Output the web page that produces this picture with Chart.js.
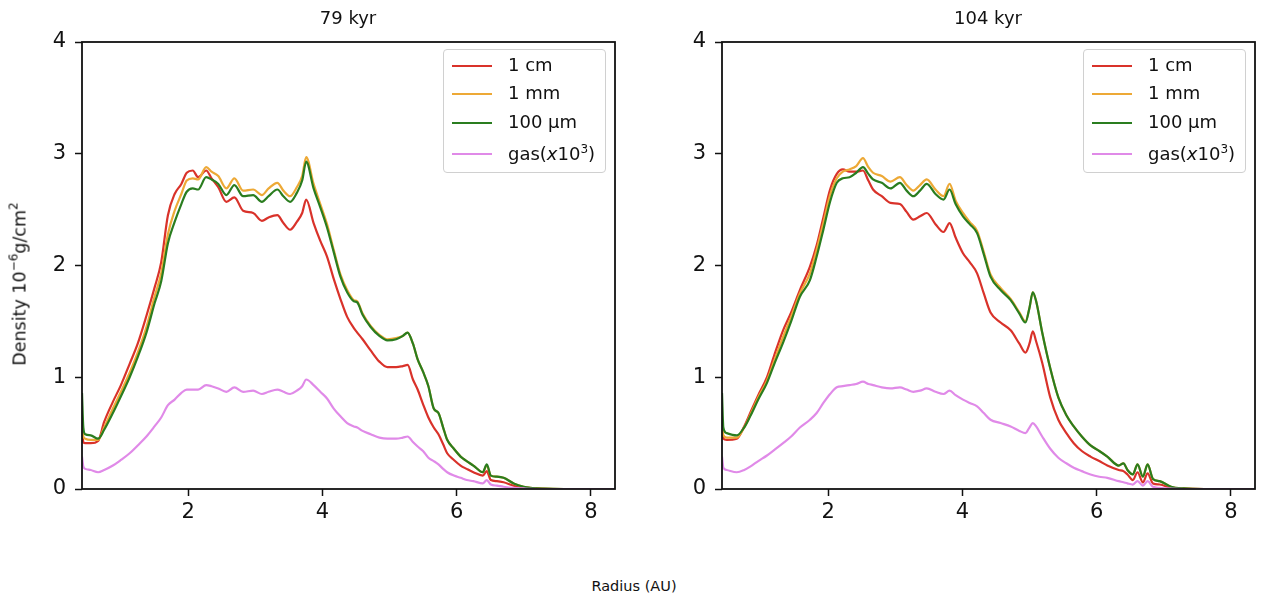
<!DOCTYPE html>
<html>
<head>
<meta charset="utf-8">
<script src="https://cdn.jsdelivr.net/npm/chart.js@4.4.1/dist/chart.umd.min.js"></script>
<style>
  body { margin: 0; background: #fff; font-family: "DejaVu Sans", sans-serif; }
  #wrap { position: relative; width: 1268px; height: 601px; overflow: hidden; }
  canvas { position: absolute; top: 0; }
  .title { position: absolute; top: 7px; font-size: 18px; color: #111; transform: translateX(-50%); white-space: nowrap; }
  .ylab { position: absolute; left: 18px; top: 284px; font-size: 17.5px; color: #111; white-space: nowrap;
          transform: translate(-50%, -50%) rotate(-90deg); }
  .xlab { position: absolute; left: 634px; top: 578px; font-size: 14.5px; color: #111; transform: translateX(-50%); white-space: nowrap; }
  .legend { position: absolute; top: 49px; width: 161px; height: 122px; border: 1px solid #d0d0d0; border-radius: 4px; background: rgba(255,255,255,0.8); }
  .legend .row { position: absolute; left: 0; height: 20px; width: 100%; }
  .legend .sw { position: absolute; left: 8px; top: 9px; width: 40px; height: 2px; }
  .legend .tx { position: absolute; left: 64px; top: -2px; font-size: 18px; color: #111; white-space: nowrap; }
  sup { font-size: 12px; vertical-align: 7px; }
  .ylab sup { font-size: 12px; vertical-align: 8px; }
</style>
</head>
<body>
<div id="wrap">
  <canvas id="chartLeft" width="640" height="560" style="left:0"></canvas>
  <canvas id="chartRight" width="628" height="560" style="left:640px"></canvas>
  <div class="title" style="left:348px">79 kyr</div>
  <div class="title" style="left:988px">104 kyr</div>
  <div class="ylab">Density 10<sup>−6</sup>g/cm<sup>2</sup></div>
  <div class="xlab">Radius (AU)</div>
  <div class="legend" id="legendLeft" style="left:443px"></div>
  <div class="legend" id="legendRight" style="left:1083px"></div>
</div>
<script>
// --- datos ---
const xTicks = [2, 4, 6, 8];
const yTicks = [0, 1, 2, 3, 4];
const seriesNames = ['1 cm', '1 mm', '100 µm', 'gas(<i>x</i>10<sup>3</sup>)'];

// panel izquierdo: 79 kyr
const radiusLeft = [0.42, 0.44, 0.47, 0.55, 0.66, 0.75, 0.88, 1.0, 1.13, 1.25, 1.38, 1.5, 1.6, 1.7, 1.8, 1.9, 1.98, 2.07, 2.15, 2.27,
  2.35, 2.45, 2.57, 2.69, 2.82, 2.97, 3.1, 3.2, 3.33, 3.42, 3.52, 3.62, 3.7, 3.76, 3.87, 3.97, 4.07, 4.17, 4.27, 4.37,
  4.47, 4.52, 4.6, 4.72, 4.85, 4.97, 5.1, 5.2, 5.27, 5.35, 5.42, 5.5, 5.58, 5.66, 5.73, 5.8, 5.86, 5.96, 6.06, 6.15,
  6.25, 6.39, 6.45, 6.51, 6.6, 6.7, 6.85, 7.0, 7.1, 7.3, 7.6, 8.0, 8.36];
const cmLeft = [0.55, 0.42, 0.41, 0.41, 0.43, 0.60, 0.78, 0.93, 1.12, 1.30, 1.55, 1.80, 2.03, 2.45, 2.64, 2.73, 2.83, 2.85, 2.79, 2.85,
  2.78, 2.70, 2.57, 2.61, 2.49, 2.47, 2.40, 2.43, 2.45, 2.38, 2.32, 2.39, 2.47, 2.59, 2.38, 2.22, 2.08, 1.88, 1.70, 1.54,
  1.44, 1.40, 1.34, 1.24, 1.14, 1.09, 1.09, 1.10, 1.11, 0.98, 0.89, 0.76, 0.64, 0.55, 0.49, 0.40, 0.32, 0.26, 0.21, 0.18,
  0.15, 0.12, 0.16, 0.08, 0.07, 0.06, 0.03, 0.015, 0.008, 0.002, 0, 0, 0];
const mmLeft = [0.55, 0.47, 0.45, 0.44, 0.44, 0.55, 0.72, 0.87, 1.04, 1.22, 1.45, 1.72, 1.93, 2.28, 2.49, 2.64, 2.76, 2.78, 2.77, 2.88,
  2.84, 2.80, 2.69, 2.78, 2.67, 2.68, 2.63, 2.69, 2.74, 2.67, 2.62, 2.70, 2.80, 2.97, 2.73, 2.55, 2.37, 2.14, 1.92, 1.78,
  1.69, 1.68, 1.57, 1.46, 1.38, 1.34, 1.35, 1.37, 1.40, 1.30, 1.16, 1.05, 0.92, 0.72, 0.68, 0.55, 0.44, 0.36, 0.29, 0.25,
  0.21, 0.15, 0.21, 0.12, 0.11, 0.10, 0.05, 0.02, 0.01, 0.003, 0, 0, 0];
const umLeft = [0.86, 0.55, 0.49, 0.48, 0.45, 0.53, 0.68, 0.83, 1.00, 1.18, 1.40, 1.66, 1.86, 2.20, 2.39, 2.55, 2.66, 2.69, 2.68, 2.79,
  2.77, 2.73, 2.63, 2.72, 2.62, 2.63, 2.57, 2.62, 2.68, 2.62, 2.57, 2.65, 2.76, 2.93, 2.69, 2.52, 2.34, 2.12, 1.90, 1.76,
  1.68, 1.67, 1.56, 1.45, 1.37, 1.33, 1.34, 1.37, 1.40, 1.30, 1.16, 1.05, 0.92, 0.72, 0.68, 0.55, 0.44, 0.36, 0.29, 0.25,
  0.21, 0.15, 0.22, 0.12, 0.11, 0.10, 0.05, 0.02, 0.01, 0.003, 0, 0, 0];
const gasLeft = [0.29, 0.20, 0.18, 0.17, 0.15, 0.17, 0.21, 0.26, 0.32, 0.39, 0.47, 0.56, 0.64, 0.75, 0.80, 0.86, 0.89, 0.89, 0.89, 0.93,
  0.92, 0.90, 0.87, 0.91, 0.87, 0.88, 0.85, 0.87, 0.89, 0.87, 0.85, 0.88, 0.92, 0.98, 0.93, 0.87, 0.81, 0.72, 0.65, 0.59,
  0.56, 0.55, 0.52, 0.49, 0.46, 0.45, 0.45, 0.46, 0.47, 0.42, 0.38, 0.34, 0.28, 0.25, 0.22, 0.18, 0.15, 0.12, 0.10, 0.08,
  0.07, 0.05, 0.08, 0.04, 0.03, 0.02, 0.01, 0.005, 0.002, 0, 0, 0, 0];

// panel derecho: 104 kyr
const radiusRight = [0.42, 0.44, 0.49, 0.64, 0.75, 0.84, 0.96, 1.09, 1.2, 1.33, 1.45, 1.58, 1.73, 1.83, 1.93, 2.03, 2.13, 2.22, 2.32, 2.42,
  2.52, 2.6, 2.67, 2.8, 2.93, 3.07, 3.17, 3.27, 3.37, 3.47, 3.6, 3.72, 3.81, 3.9, 4.01, 4.11, 4.22, 4.32, 4.42, 4.57,
  4.72, 4.85, 4.94, 5.0, 5.05, 5.1, 5.19, 5.31, 5.43, 5.55, 5.66, 5.78, 5.91, 6.04, 6.16, 6.33, 6.4, 6.46, 6.54, 6.61,
  6.69, 6.76, 6.84, 6.94, 7.11, 7.3, 7.6, 8.0, 8.36];
const cmRight = [0.53, 0.45, 0.44, 0.45, 0.56, 0.68, 0.84, 1.00, 1.20, 1.42, 1.58, 1.78, 1.99, 2.18, 2.43, 2.68, 2.82, 2.86, 2.84, 2.84,
  2.85, 2.76, 2.68, 2.62, 2.56, 2.55, 2.48, 2.41, 2.44, 2.47, 2.37, 2.30, 2.38, 2.25, 2.11, 2.03, 1.93, 1.75, 1.58, 1.49,
  1.42, 1.30, 1.22, 1.30, 1.41, 1.32, 1.13, 0.82, 0.62, 0.50, 0.41, 0.34, 0.29, 0.25, 0.21, 0.17, 0.16, 0.13, 0.08, 0.15,
  0.06, 0.14, 0.05, 0.04, 0.01, 0.003, 0, 0, 0];
const mmRight = [0.55, 0.48, 0.46, 0.46, 0.55, 0.66, 0.82, 0.97, 1.15, 1.36, 1.54, 1.75, 1.93, 2.14, 2.38, 2.63, 2.78, 2.84, 2.86, 2.89,
  2.96, 2.88, 2.83, 2.80, 2.75, 2.79, 2.72, 2.67, 2.72, 2.77, 2.68, 2.62, 2.73, 2.58, 2.47, 2.39, 2.31, 2.12, 1.92, 1.80,
  1.70, 1.58, 1.50, 1.62, 1.76, 1.68, 1.40, 1.08, 0.82, 0.66, 0.56, 0.47, 0.39, 0.34, 0.29, 0.21, 0.23, 0.17, 0.13, 0.22,
  0.11, 0.22, 0.09, 0.07, 0.02, 0.005, 0, 0, 0];
const umRight = [0.86, 0.55, 0.50, 0.48, 0.55, 0.65, 0.80, 0.95, 1.12, 1.31, 1.50, 1.72, 1.87, 2.08, 2.32, 2.57, 2.74, 2.78, 2.79, 2.83,
  2.88, 2.82, 2.77, 2.74, 2.69, 2.74, 2.67, 2.62, 2.67, 2.73, 2.64, 2.59, 2.68, 2.55, 2.44, 2.37, 2.29, 2.10, 1.90, 1.78,
  1.69, 1.57, 1.49, 1.62, 1.76, 1.68, 1.40, 1.08, 0.82, 0.66, 0.56, 0.47, 0.39, 0.34, 0.29, 0.21, 0.23, 0.17, 0.13, 0.22,
  0.11, 0.22, 0.09, 0.07, 0.02, 0.005, 0, 0, 0];
const gasRight = [0.29, 0.19, 0.17, 0.15, 0.17, 0.20, 0.25, 0.30, 0.35, 0.41, 0.47, 0.55, 0.62, 0.68, 0.77, 0.85, 0.91, 0.92, 0.93, 0.94,
  0.96, 0.94, 0.93, 0.91, 0.90, 0.91, 0.89, 0.87, 0.88, 0.90, 0.87, 0.85, 0.88, 0.84, 0.80, 0.77, 0.74, 0.68, 0.62, 0.59,
  0.56, 0.52, 0.50, 0.55, 0.59, 0.56, 0.47, 0.36, 0.28, 0.23, 0.19, 0.16, 0.13, 0.11, 0.10, 0.07, 0.06, 0.05, 0.04, 0.07,
  0.03, 0.07, 0.02, 0.01, 0.003, 0, 0, 0, 0];

const colores = ['#d9322a', '#eda936', '#2a7d1f', '#e08ae8'];

// marco negro alrededor del area del grafico (estilo matplotlib)
const framePlugin = {
  id: 'frame',
  afterDraw(chart) {
    const { ctx, chartArea: a } = chart;
    ctx.save();
    ctx.strokeStyle = '#111';
    ctx.lineWidth = 1.8;
    ctx.strokeRect(a.left, a.top, a.right - a.left, a.bottom - a.top);
    ctx.restore();
  }
};

function crearPanel(canvasId, radius, valores, padRight) {
  const datasets = valores.map((serie, i) => ({
    label: seriesNames[i],
    data: radius.map((r, j) => ({ x: r, y: serie[j] })),
    borderColor: colores[i],
    borderWidth: 2.2,
    pointRadius: 0,
    fill: false,
    cubicInterpolationMode: 'monotone',
    order: 4 - i
  }));

  return new Chart(document.getElementById(canvasId), {
    type: 'line',
    data: { datasets },
    plugins: [framePlugin],
    options: {
      responsive: false,
      animation: false,
      layout: { padding: { top: 42, right: padRight, left: 0, bottom: 0 } },
      plugins: { legend: { display: false }, tooltip: { enabled: false } },
      scales: {
        x: {
          type: 'linear', min: 0.42, max: 8.36,
          afterBuildTicks: (axis) => { axis.ticks = xTicks.map(v => ({ value: v })); },
          afterFit: (s) => { s.height = 71; },
          grid: { drawOnChartArea: false, drawTicks: true, tickLength: 7, tickColor: '#111', tickWidth: 1.5 },
          border: { display: false },
          ticks: { color: '#111', font: { family: 'DejaVu Sans', size: 21 }, padding: 4, maxRotation: 0 }
        },
        y: {
          type: 'linear', min: 0, max: 4,
          afterBuildTicks: (axis) => { axis.ticks = yTicks.map(v => ({ value: v })); },
          afterFit: (s) => { s.width = 82; },
          grid: { drawOnChartArea: false, drawTicks: true, tickLength: 7, tickColor: '#111', tickWidth: 1.5 },
          border: { display: false },
          ticks: { color: '#111', font: { family: 'DejaVu Sans', size: 21 }, padding: 9 }
        }
      }
    }
  });
}

function crearLeyenda(id) {
  const caja = document.getElementById(id);
  const tops = [6, 34, 63, 94];
  seriesNames.forEach((nombre, i) => {
    const fila = document.createElement('div');
    fila.className = 'row';
    fila.style.top = tops[i] + 'px';
    fila.innerHTML = '<div class="sw" style="background:' + colores[i] + '"></div><div class="tx">' + nombre + '</div>';
    caja.appendChild(fila);
  });
}

crearPanel('chartLeft', radiusLeft, [cmLeft, mmLeft, umLeft, gasLeft], 25);
crearPanel('chartRight', radiusRight, [cmRight, mmRight, umRight, gasRight], 13);
crearLeyenda('legendLeft');
crearLeyenda('legendRight');
</script>
</body>
</html>
